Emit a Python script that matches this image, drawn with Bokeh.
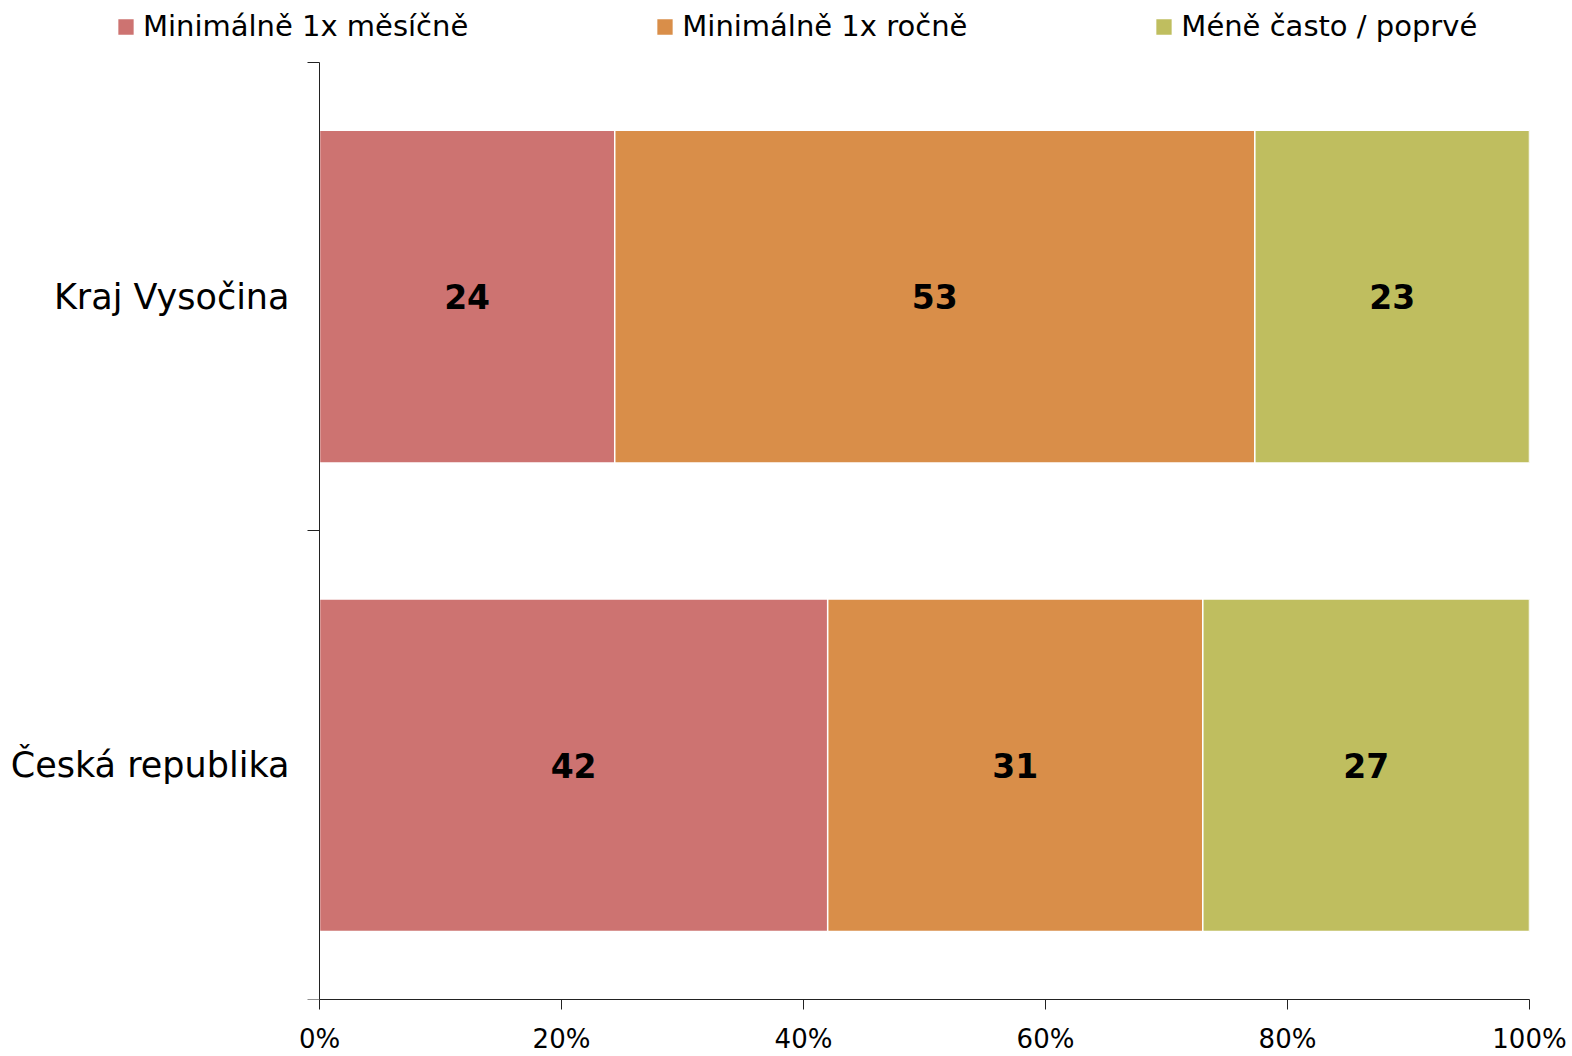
import numpy as np
from bokeh.plotting import figure
from bokeh.models import (ColumnDataSource, Range1d, FixedTicker, PrintfTickFormatter,
                          Legend, LegendItem)
from bokeh.core.properties import value
from bokeh.embed import file_html
from bokeh.resources import INLINE

# ---- data ----
categories = ["Česká republika", "Kraj Vysočina"]          # bottom -> top
series_labels = ["Minimálně 1x měsíčně", "Minimálně 1x ročně", "Méně často / poprvé"]
monthly = [42.0, 24.4]
yearly = [31.0, 52.9]
less_often = [27.0, 22.7]
x_ticks = [0, 20, 40, 60, 80, 100]
colors = ["#CD7371", "#D98E49", "#BFBE5F"]

FONT = "DejaVu Sans"

# ---- layout (pixels) ----
W, H = 1572, 1056
FRAME_L, FRAME_R = 0, 1529           # canvas frame
FRAME_T, FRAME_B = 0, 1000
AXIS_X0 = 319                        # where 0 % sits
AXIS_TOP = 62                        # top of the category band

series = [monthly, yearly, less_often]
keys = ["s0", "s1", "s2"]
ncat = len(categories)
ypos = np.arange(ncat) + 0.5

data = {"y": ypos}
for k, s in zip(keys, series):
    data[k] = s
source = ColumnDataSource(data)

px_per_x = (FRAME_R - AXIS_X0) / 100.0
x_start = -(AXIS_X0 - FRAME_L) / px_per_x
px_per_y = (FRAME_B - AXIS_TOP) / ncat
y_end = ncat + (AXIS_TOP - FRAME_T) / px_per_y

p = figure(width=W, height=H, output_backend="svg", toolbar_location=None,
           x_range=Range1d(x_start, 100), y_range=Range1d(0, y_end),
           y_axis_location="right",
           min_border_left=FRAME_L, min_border_right=W - FRAME_R,
           min_border_top=FRAME_T, min_border_bottom=H - FRAME_B)

renderers = p.hbar_stack(keys, y="y", height=0.71, color=colors, source=source,
                         line_color="white", line_width=1.5)

# data labels
cum = np.zeros(ncat)
lx, ly, lt = [], [], []
for s in series:
    s = np.array(s)
    lx.extend(list(cum + s / 2))
    ly.extend(list(ypos))
    lt.extend([str(int(round(v))) for v in s])
    cum = cum + s
lab_src = ColumnDataSource(dict(x=lx, y=ly, t=lt))
p.text(x="x", y="y", text="t", source=lab_src, text_font=value(FONT),
       text_font_style="bold", text_font_size="33px", text_align="center",
       text_baseline="middle", text_color="black")

# category labels, right-aligned next to the value axis
cat_src = ColumnDataSource(dict(x=[0] * ncat, y=ypos, t=categories))
p.text(x="x", y="y", text="t", source=cat_src, x_offset=-30, text_font=value(FONT),
       text_font_size="35px", text_align="right", text_baseline="middle",
       text_color="black")

p.xgrid.visible = False
p.ygrid.visible = False
p.outline_line_color = None

xa = p.xaxis[0]
xa.ticker = FixedTicker(ticks=x_ticks, minor_ticks=[])
xa.bounds = (0, 100)
xa.formatter = PrintfTickFormatter(format="%d%%")
xa.major_label_text_font = FONT
xa.major_label_text_font_size = "26px"
xa.major_label_text_color = "black"
xa.major_tick_out = 10
xa.major_tick_in = 0
xa.minor_tick_line_color = None
xa.major_label_standoff = 14
xa.axis_line_color = "#222222"
xa.major_tick_line_color = "#222222"

ya = p.yaxis[0]
ya.fixed_location = 0
ya.bounds = (0, ncat)
ya.ticker = FixedTicker(ticks=[], minor_ticks=list(np.arange(ncat + 1)))
ya.major_tick_line_color = None
ya.major_tick_in = 0
ya.major_tick_out = 0
ya.minor_tick_out = 0
ya.minor_tick_in = 12
ya.minor_tick_line_color = "#222222"
ya.axis_line_color = "#222222"

# legend (bar legend glyphs are drawn at 80% of the glyph box)
items = [LegendItem(label=lbl, renderers=[r]) for lbl, r in zip(series_labels, renderers)]
legend = Legend(items=items, orientation="horizontal",
                location=(115 - FRAME_L, (FRAME_B - FRAME_T) - 27 - 17),
                glyph_width=21, glyph_height=21, label_standoff=7, spacing=186,
                padding=0, margin=0, border_line_color=None, background_fill_alpha=0,
                label_text_font=FONT, label_text_font_size="29px", label_text_color="black")
p.add_layout(legend, "center")

open("out.html", "w").write(file_html(p, INLINE))
